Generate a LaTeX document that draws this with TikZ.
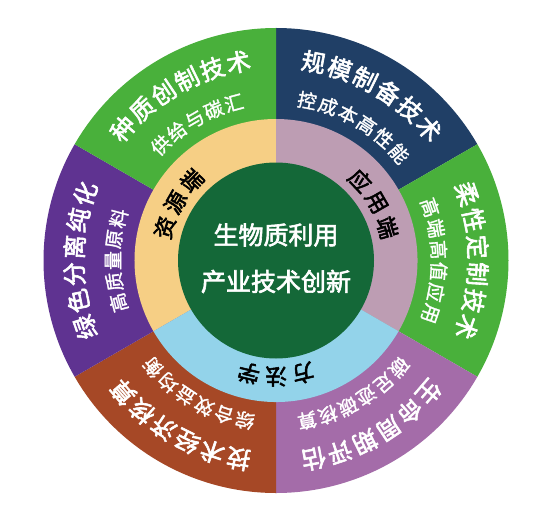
\documentclass[tikz,border=0pt]{standalone}
\usepackage{fontspec}
\setmainfont{Noto Sans CJK SC}
\newfontfamily\cjk[FakeBold=2.5]{Noto Sans CJK SC}
\newfontfamily\cjksub[FakeBold=1.5]{Noto Sans CJK SC}
\definecolor{cblue}{HTML}{203F66}
\definecolor{cgreen}{HTML}{49B03B}
\definecolor{clilac}{HTML}{A46CA9}
\definecolor{cbrown}{HTML}{A64826}
\definecolor{cpurple}{HTML}{5F3391}
\definecolor{ccore}{HTML}{146838}
\definecolor{cbeige}{HTML}{F6CF85}
\definecolor{cpink}{HTML}{BD9DB3}
\definecolor{csky}{HTML}{93D3EA}
\newcommand\ringsector[4]{\fill[#1] (0,0) -- (#2:#4) arc[start angle=#2, end angle=#3, radius=#4] -- cycle;}
% #1 name, #2 centre angle, #3 radius, #4 gap, #5 count, #6 style, #7 chars
\newcommand\arctext[7]{%
  \foreach \ch [count=\k] in {#7}{%
    \pgfmathsetmacro\ang{#2+((#5+1)/2-\k)*#4}%
    \node[#6, rotate=\ang-90] (#1-\k) at (\ang:#3) {\ch};
  }}
\tikzset{
  maintext/.style={inner sep=0pt, text=white, font=\cjk\fontsize{24}{24}\selectfont},
  subtext/.style={inner sep=0pt, text=white, font=\cjksub\fontsize{19}{19}\selectfont},
  ringtext/.style={inner sep=0pt, text=black, font=\cjk\fontsize{22}{22}\selectfont},
  coretext/.style={inner sep=0pt, text=white, font=\cjk\fontsize{25}{25}\selectfont}
}
\begin{document}
\begin{tikzpicture}[x=1pt,y=1pt]
\useasboundingbox[fill=white] (-276,-261.5) rectangle (277,260.5);
% outer ring
\ringsector{cblue}{30}{90}{232.5}
\ringsector{cgreen}{-30}{30}{232.5}
\ringsector{clilac}{-90}{-30}{232.5}
\ringsector{cbrown}{-150}{-90}{232.5}
\ringsector{cpurple}{150}{210}{232.5}
\ringsector{cgreen}{90}{150}{232.5}
% middle ring
\ringsector{cbeige}{90}{210}{141.5}
\ringsector{cpink}{-30}{90}{141.5}
\ringsector{csky}{210}{330}{141.5}
% core
\fill[ccore] (0,0) circle[radius=98];
\node[coretext] (core1) at (0,25.5) {生物质利用};
\node[coretext] (core2) at (0,-21) {产业技术创新};
% middle labels
\arctext{r1}{150}{116}{13.5}{3}{ringtext}{资,源,端}
\arctext{r2}{30}{116}{13.5}{3}{ringtext}{应,用,端}
\arctext{r3}{-90}{116}{13.5}{3}{ringtext}{方,法,学}
% outer labels
\arctext{m1}{120}{202}{7.7}{6}{maintext}{种,质,创,制,技,术}
\arctext{s1}{120}{163}{7.5}{5}{subtext}{供,给,与,碳,汇}
\arctext{m2}{60}{202}{7.7}{6}{maintext}{规,模,制,备,技,术}
\arctext{s2}{60}{163}{7.6}{6}{subtext}{控,成,本,高,性,能}
\arctext{m3}{0}{202}{7.7}{6}{maintext}{柔,性,定,制,技,术}
\arctext{s3}{0}{163}{7.6}{6}{subtext}{高,端,高,值,应,用}
\arctext{m4}{-60}{202}{7.7}{6}{maintext}{生,命,周,期,评,估}
\arctext{s4}{-60}{163}{7.6}{6}{subtext}{碳,足,迹,碳,核,算}
\arctext{m5}{-120}{202}{7.7}{6}{maintext}{技,术,经,济,核,算}
\arctext{s5}{-120}{163}{7.6}{6}{subtext}{综,合,效,益,均,衡}
\arctext{m6}{180}{202}{7.7}{6}{maintext}{绿,色,分,离,纯,化}
\arctext{s6}{180}{163}{7.5}{5}{subtext}{高,质,量,原,料}
\end{tikzpicture}
\end{document}
